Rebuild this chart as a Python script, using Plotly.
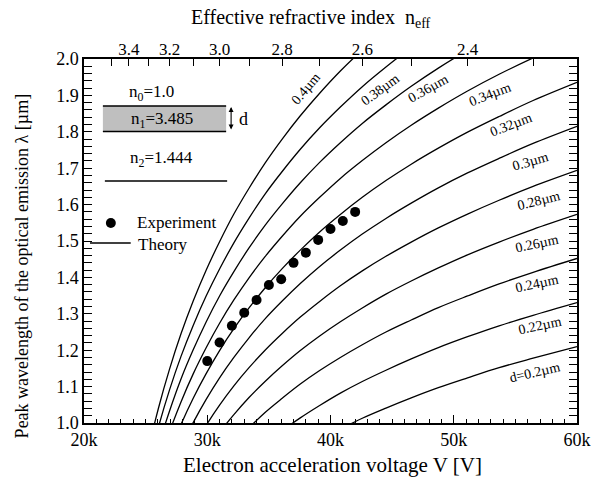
import plotly.graph_objects as go

# ---------------- data ----------------
voltage_kV = [24.41, 25.21, 26.05, 26.94, 27.87, 28.86, 29.90, 31.00, 32.16, 33.39,
              34.69, 36.08, 37.55, 39.12, 40.80, 42.58, 44.50, 46.55, 48.75, 51.12,
              53.68, 56.44, 60.00]

lam_d020 = [0.394, 0.462, 0.521, 0.574, 0.623, 0.667, 0.710, 0.749, 0.787, 0.823, 0.857, 0.890,
            0.922, 0.953, 0.983, 1.013, 1.041, 1.069, 1.097, 1.124, 1.152, 1.178, 1.210]
lam_d022 = [0.434, 0.508, 0.573, 0.632, 0.685, 0.734, 0.781, 0.824, 0.866, 0.905, 0.943, 0.979,
            1.014, 1.048, 1.082, 1.114, 1.145, 1.176, 1.207, 1.237, 1.267, 1.296, 1.331]
lam_d024 = [0.473, 0.554, 0.625, 0.689, 0.747, 0.801, 0.851, 0.899, 0.944, 0.987, 1.029, 1.068,
            1.107, 1.144, 1.180, 1.215, 1.250, 1.283, 1.317, 1.349, 1.382, 1.414, 1.452]
lam_d026 = [0.512, 0.601, 0.677, 0.746, 0.809, 0.868, 0.922, 0.974, 1.023, 1.070, 1.114, 1.157,
            1.199, 1.239, 1.278, 1.316, 1.354, 1.390, 1.426, 1.462, 1.497, 1.532, 1.573]
lam_d028 = [0.552, 0.647, 0.730, 0.804, 0.872, 0.934, 0.993, 1.049, 1.102, 1.152, 1.200, 1.246,
            1.291, 1.334, 1.377, 1.418, 1.458, 1.497, 1.536, 1.574, 1.612, 1.650, 1.694]
lam_d030 = [0.591, 0.693, 0.782, 0.861, 0.934, 1.001, 1.064, 1.124, 1.180, 1.234, 1.286, 1.335,
            1.383, 1.430, 1.475, 1.519, 1.562, 1.604, 1.646, 1.687, 1.727, 1.768, 1.815]
lam_d032 = [0.631, 0.739, 0.834, 0.919, 0.996, 1.068, 1.135, 1.199, 1.259, 1.316, 1.371, 1.424,
            1.475, 1.525, 1.573, 1.620, 1.666, 1.711, 1.755, 1.799, 1.842, 1.886, 1.936]
lam_d034 = [0.670, 0.785, 0.886, 0.976, 1.058, 1.135, 1.206, 1.274, 1.338, 1.399, 1.457, 1.513,
            1.568, 1.620, 1.672, 1.721, 1.770, 1.818, 1.865, 1.912, 1.958, 2.003, 2.057]
lam_d036 = [0.710, 0.832, 0.938, 1.033, 1.121, 1.201, 1.277, 1.349, 1.416, 1.481, 1.543, 1.602,
            1.660, 1.716, 1.770, 1.823, 1.874, 1.925, 1.975, 2.024, 2.073, 2.121, 2.178]
lam_d038 = [0.749, 0.878, 0.990, 1.091, 1.183, 1.268, 1.348, 1.423, 1.495, 1.563, 1.629, 1.691,
            1.752, 1.811, 1.868, 1.924, 1.978, 2.032, 2.085, 2.137, 2.188, 2.239, 2.299]
lam_d040 = [0.788, 0.924, 1.042, 1.148, 1.245, 1.335, 1.419, 1.498, 1.574, 1.645, 1.714, 1.780,
            1.844, 1.906, 1.967, 2.025, 2.083, 2.139, 2.194, 2.249, 2.303, 2.357, 2.420]

exp_voltage_kV = [30, 31, 32, 33, 34, 35, 36, 37, 38, 39, 40, 41, 42]
exp_wavelength = [1.170, 1.221, 1.267, 1.303, 1.338, 1.379, 1.395, 1.440, 1.468, 1.503, 1.533, 1.555, 1.580]

neff_tick_voltage_kV = [22.23, 23.65, 25.21, 26.94, 28.86, 31.00, 33.39, 36.08, 39.12, 42.58, 46.55, 51.12, 56.44]
neff_tick_text = ["", "3.4", "", "3.2", "", "3.0", "", "2.8", "", "2.6", "", "2.4", ""]

x_tick_vals = [20, 30, 40, 50, 60]
x_tick_text = ["20k", "30k", "40k", "50k", "60k"]

curve_labels = ["d=0.2µm", "0.22µm", "0.24µm", "0.26µm", "0.28µm", "0.3µm",
                "0.32µm", "0.34µm", "0.36µm", "0.38µm", "0.4µm"]

# ---------------- figure ----------------
FONT = "Liberation Serif"
L, R, T, B = 84, 580, 59, 423   # plot-area pixel box


def px(x):
    return (x - L) / (R - L)


def py(y):
    return (B - y) / (B - T)


fig = go.Figure()

curves = [lam_d020, lam_d022, lam_d024, lam_d026, lam_d028, lam_d030,
          lam_d032, lam_d034, lam_d036, lam_d038, lam_d040]
for name, lam in zip(curve_labels, curves):
    fig.add_trace(go.Scatter(x=voltage_kV, y=lam, mode="lines",
                             line=dict(color="black", width=1.3, shape="spline", smoothing=1.0),
                             name=name, showlegend=False, hoverinfo="skip"))

fig.add_trace(go.Scatter(x=exp_voltage_kV, y=exp_wavelength, mode="markers",
                         marker=dict(color="black", size=10), name="Experiment",
                         showlegend=False))
# invisible companion so the top (n_eff) axis is drawn
fig.add_trace(go.Scatter(x=exp_voltage_kV, y=exp_wavelength, xaxis="x2", mode="markers",
                         marker=dict(opacity=0), showlegend=False, hoverinfo="skip"))

axis_common = dict(showgrid=False, zeroline=False, linecolor="black", linewidth=1.5,
                   tickcolor="black", tickfont=dict(family=FONT, size=18, color="black"))

fig.update_layout(
    width=603, height=486,
    margin=dict(l=L, r=603 - R, t=T, b=486 - B),
    paper_bgcolor="white", plot_bgcolor="white",
    font=dict(family=FONT, color="black"),
    xaxis=dict(range=[20, 60], tickvals=x_tick_vals, ticktext=x_tick_text,
               ticks="inside", ticklen=8, tickwidth=1.2, mirror=True, showline=True,
               minor=dict(dtick=1, ticks="inside", ticklen=4, tickcolor="black", tickwidth=1),
               **axis_common),
    xaxis2=dict(range=[20, 60], overlaying="x", side="top", anchor="y",
                tickmode="array", tickvals=neff_tick_voltage_kV, ticktext=neff_tick_text,
                ticks="inside", ticklen=7, tickwidth=1.2, showline=False,
                showgrid=False, zeroline=False, tickcolor="black",
                tickfont=dict(family=FONT, size=17, color="black")),
    yaxis=dict(range=[1.0, 2.0], dtick=0.1, tickformat=".1f", ticks="inside", ticklen=8,
               tickwidth=1.2, mirror="allticks", showline=True,
               minor=dict(dtick=0.02, ticks="inside", ticklen=4, tickcolor="black", tickwidth=1),
               **axis_common),
)

ann = []


def text_at(x, y, txt, size, angle=0, xanchor="center"):
    ann.append(dict(x=px(x), y=py(y), xref="paper", yref="paper", showarrow=False,
                    xanchor=xanchor, yanchor="middle", text=txt, textangle=angle,
                    font=dict(family=FONT, size=size, color="black")))


# axis titles
text_at(334, 465, "Electron acceleration voltage V [V]", 21)
text_at(312, 19, "Effective refractive index  n<sub>eff</sub>", 20)
text_at(22, 266, "Peak wavelength of the optical emission λ [µm]", 18, angle=-90)

# curve labels
label_pos = [(537, 372, -13), (543, 325, -12), (540, 283, -12), (540, 243, -12),
             (542, 201, -14), (533, 161, -16), (514, 124, -21), (492, 94, -21),
             (430, 88, -29), (382, 89, -36), (307, 88, -50)]
for txt, (x, y, a) in zip(curve_labels, label_pos):
    text_at(x, y, txt, 14, angle=a)

# inset: layer structure
text_at(152, 93, "n<sub>0</sub>=1.0", 17)
text_at(162, 120, "n<sub>1</sub>=3.485", 17)
text_at(162, 159, "n<sub>2</sub>=1.444", 17)
text_at(244, 119, "d", 18)
ann.append(dict(x=px(232), y=py(107), xref="paper", yref="paper", text="", showarrow=True,
                ax=0, ay=24, axref="pixel", ayref="pixel", arrowside="end+start",
                arrowhead=2, startarrowhead=2, arrowsize=0.9, startarrowsize=0.9,
                arrowwidth=1.1, arrowcolor="black"))

# legend
text_at(135, 223, "Experiment", 17, xanchor="left")
text_at(136, 244, "Theory", 17, xanchor="left")
fig.update_layout(annotations=ann)

shapes = [
    dict(type="rect", xref="paper", yref="paper", x0=px(103), x1=px(227), y0=py(131.5), y1=py(106),
         fillcolor="#bfbfbf", line=dict(width=0)),
    dict(type="line", xref="paper", yref="paper", x0=px(103), x1=px(227), y0=py(106), y1=py(106),
         line=dict(color="black", width=1.6)),
    dict(type="line", xref="paper", yref="paper", x0=px(103), x1=px(227), y0=py(131.5), y1=py(131.5),
         line=dict(color="black", width=1.6)),
    dict(type="line", xref="paper", yref="paper", x0=px(105), x1=px(228), y0=py(181), y1=py(181),
         line=dict(color="black", width=1.6)),
    dict(type="circle", xref="paper", yref="paper", x0=px(106), x1=px(116), y0=py(228), y1=py(218),
         fillcolor="black", line=dict(color="black", width=0)),
    dict(type="line", xref="paper", yref="paper", x0=px(90), x1=px(131), y0=py(243), y1=py(243),
         line=dict(color="black", width=1.3)),
]
fig.update_layout(shapes=shapes)

fig.write_html("out.html", config={"displayModeBar": False},
               post_script="document.body.style.margin='0px';document.body.style.padding='0px';")
